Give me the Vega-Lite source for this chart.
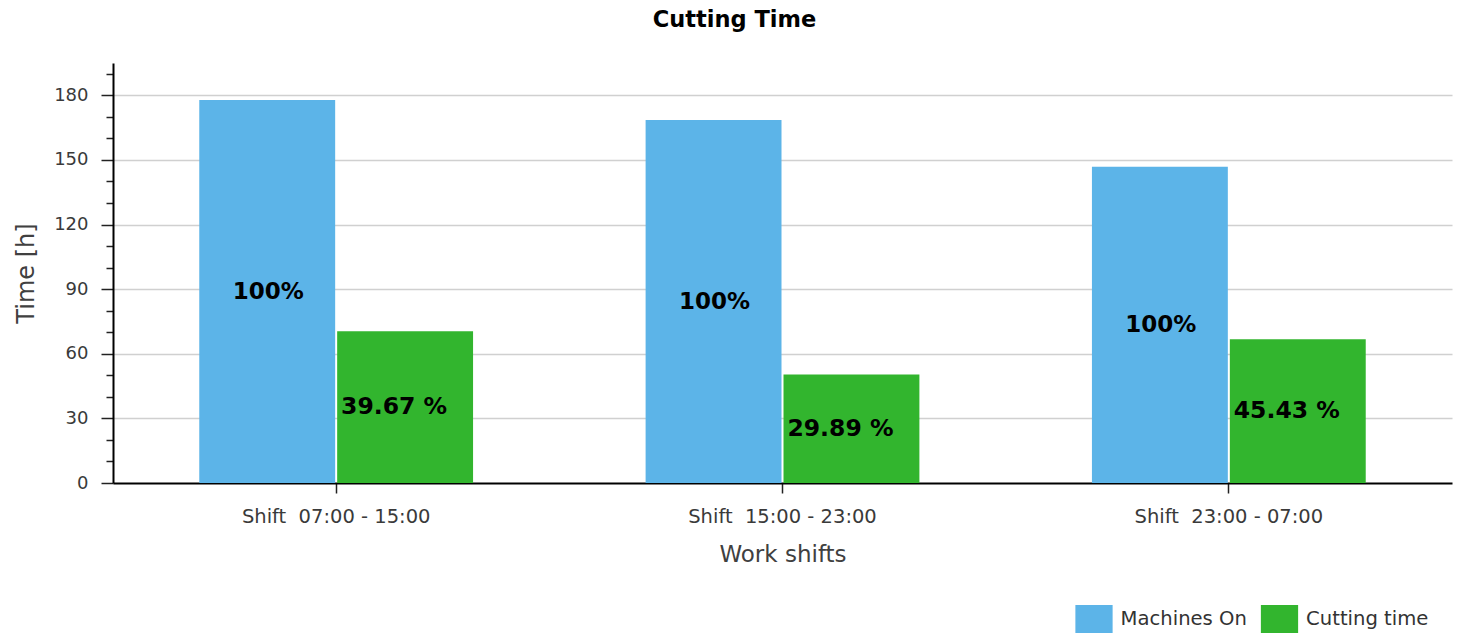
{
  "$schema": "https://vega.github.io/schema/vega-lite/v6.json",
  "width": 1339,
  "height": 420,
  "autosize": {"type": "none"},
  "padding": {"left": 113, "top": 63, "right": 10, "bottom": 152},
  "background": "white",
  "title": {"text": "Cutting Time", "font": "DejaVu Sans", "fontSize": 22.5, "fontWeight": "bold", "color": "#000", "anchor": "middle", "frame": "group", "dx": -48, "offset": 14, "baseline": "alphabetic"},
  "data": {"values": [
    {"shift": "Shift \u00a007:00 - 15:00", "series": "Machines On", "hours": 177.8, "label": "100%"},
    {"shift": "Shift \u00a007:00 - 15:00", "series": "Cutting time", "hours": 70.5, "label": "39.67 %"},
    {"shift": "Shift \u00a015:00 - 23:00", "series": "Machines On", "hours": 168.5, "label": "100%"},
    {"shift": "Shift \u00a015:00 - 23:00", "series": "Cutting time", "hours": 50.4, "label": "29.89 %"},
    {"shift": "Shift \u00a023:00 - 07:00", "series": "Machines On", "hours": 146.8, "label": "100%"},
    {"shift": "Shift \u00a023:00 - 07:00", "series": "Cutting time", "hours": 66.7, "label": "45.43 %"}
  ]},
  "transform": [{"calculate": "datum.hours / 2", "as": "mid"}],
  "encoding": {
    "x": {
      "field": "shift", "type": "nominal", "sort": null,
      "scale": {"paddingInner": 0, "paddingOuter": 0},
      "axis": {
        "title": "Work shifts", "labelAngle": 0, "grid": false, "bandPosition": 0.5,
        "domainColor": "#000", "domainWidth": 2, "tickColor": "#222", "tickWidth": 1.5, "tickSize": 10,
        "labelFont": "DejaVu Sans", "labelFontSize": 19.5, "labelColor": "#3a3a3a", "labelPadding": 14, "labelLimit": 400,
        "titleFont": "DejaVu Sans", "titleFontSize": 23, "titleFontWeight": "normal", "titleColor": "#404040", "titlePadding": 18
      }
    },
    "xOffset": {"field": "series", "type": "nominal", "sort": ["Machines On", "Cutting time"], "scale": {"paddingInner": 0.0145, "paddingOuter": 0.6256}},
    "y": {
      "type": "quantitative",
      "scale": {"domain": [0, 195], "nice": false, "zero": true},
      "axis": {
        "title": "Time [h]",
        "values": [0, 10, 20, 30, 40, 50, 60, 70, 80, 90, 100, 110, 120, 130, 140, 150, 160, 170, 180, 190],
        "labelExpr": "datum.value % 30 === 0 ? datum.label : ''",
        "tickSize": {"condition": {"test": "datum.value % 30 === 0", "value": 12}, "value": 7},
        "gridOpacity": {"condition": {"test": "datum.value % 30 === 0 && datum.value > 0", "value": 1}, "value": 0},
        "gridColor": "#d0d0d0", "gridWidth": 1.5,
        "domainColor": "#000", "domainWidth": 2, "tickColor": "#222", "tickWidth": 1.5,
        "labelFont": "DejaVu Sans", "labelFontSize": 18, "labelColor": "#3a3a3a", "labelPadding": 13, "labelOverlap": false,
        "titleFont": "DejaVu Sans", "titleFontSize": 24, "titleFontWeight": "normal", "titleColor": "#404040", "titlePadding": 15
      }
    }
  },
  "layer": [
    {
      "mark": {"type": "bar"},
      "encoding": {
        "y": {"field": "hours"},
        "color": {
          "field": "series", "type": "nominal",
          "scale": {"domain": ["Machines On", "Cutting time"], "range": ["#5CB4E8", "#32B52E"]},
          "legend": {
            "orient": "none", "legendX": 967, "legendY": 542, "direction": "horizontal", "title": null,
            "symbolType": "M-1.33,-1H1.33V1H-1.33Z", "symbolSize": 784, "symbolStrokeWidth": 0, "symbolOpacity": 1,
            "labelFont": "DejaVu Sans", "labelFontSize": 19.6, "labelColor": "#333", "labelOffset": 12.6, "columnPadding": 13.5
          }
        }
      }
    },
    {
      "transform": [{"filter": "datum.series === 'Machines On'"}],
      "mark": {"type": "text", "font": "DejaVu Sans", "fontSize": 23, "fontWeight": "bold", "color": "#000", "baseline": "middle", "align": "center", "dx": 1},
      "encoding": {
        "y": {"field": "mid"},
        "text": {"field": "label"}
      }
    },
    {
      "transform": [{"filter": "datum.series === 'Cutting time'"}],
      "mark": {"type": "text", "font": "DejaVu Sans", "fontSize": 23.5, "fontWeight": "bold", "color": "#000", "baseline": "middle", "align": "center", "dx": -11},
      "encoding": {
        "y": {"field": "mid"},
        "text": {"field": "label"}
      }
    }
  ],
  "config": {"view": {"stroke": null}}
}
